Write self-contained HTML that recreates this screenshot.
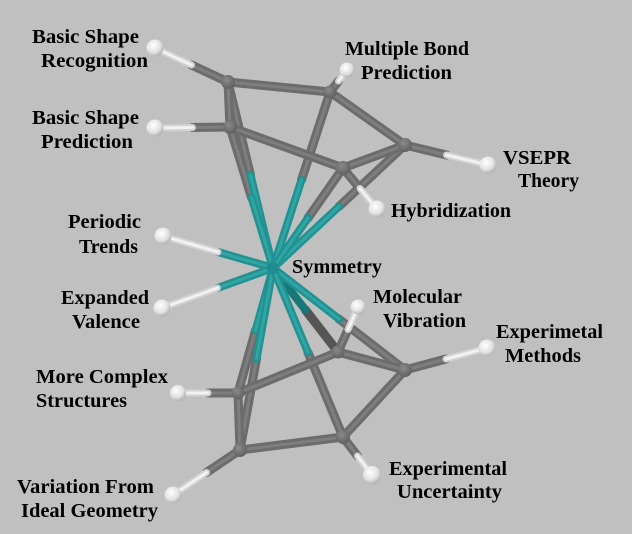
<!DOCTYPE html>
<html><head><meta charset="utf-8"><style>
html,body{margin:0;padding:0;background:#c0c0c0;}
svg{display:block;}
.g{stroke:#6c6c6c;stroke-width:9;stroke-linecap:round;fill:none}
.gh{stroke:#7e7e7e;stroke-width:3;stroke-linecap:round;fill:none}
.t{stroke:#209292;stroke-width:8;stroke-linecap:round;fill:none}
.th{stroke:#32a4a4;stroke-width:3;stroke-linecap:round;fill:none}
.w{stroke:#d2d2d2;stroke-width:7;stroke-linecap:round;fill:none}
.wh{stroke:#f2f2f2;stroke-width:3;stroke-linecap:round;fill:none}
text{font-family:"Liberation Serif",serif;font-weight:bold;font-size:20px;fill:#000}
</style></head><body>
<svg width="632" height="534" viewBox="0 0 632 534" xmlns="http://www.w3.org/2000/svg">
<defs>
<radialGradient id="ball" cx="0.4" cy="0.35" r="0.7">
<stop offset="0" stop-color="#ffffff"/><stop offset="0.6" stop-color="#e2e2e2"/><stop offset="1" stop-color="#a8a8a8"/>
</radialGradient>
<radialGradient id="node" cx="0.4" cy="0.35" r="0.7">
<stop offset="0" stop-color="#8a8a8a"/><stop offset="1" stop-color="#5e5e5e"/>
</radialGradient>
</defs>
<rect width="632" height="534" fill="#c0c0c0"/>

<!-- S to ring bonds: grey halves (node side) -->
<g>
<line class="g" x1="228" y1="82" x2="250.5" y2="175"/><line class="gh" x1="228" y1="82" x2="250.5" y2="175"/>
<line class="g" x1="230" y1="127" x2="251.5" y2="197.5"/><line class="gh" x1="230" y1="127" x2="251.5" y2="197.5"/>
<line class="g" x1="330" y1="92" x2="301.5" y2="180"/><line class="gh" x1="330" y1="92" x2="301.5" y2="180"/>
<line class="g" x1="405" y1="145" x2="339" y2="206.5"/><line class="gh" x1="405" y1="145" x2="339" y2="206.5"/>
<line class="g" x1="343" y1="168" x2="308" y2="218"/><line class="gh" x1="343" y1="168" x2="308" y2="218"/>
<line class="g" x1="338" y1="352" x2="305.5" y2="310" style="stroke:#555"/>
<line class="g" x1="405" y1="370" x2="339" y2="319"/><line class="gh" x1="405" y1="370" x2="339" y2="319"/>
<line class="g" x1="238" y1="393" x2="255.5" y2="330.5"/><line class="gh" x1="238" y1="393" x2="255.5" y2="330.5"/>
<line class="g" x1="240" y1="450" x2="256.5" y2="359"/><line class="gh" x1="240" y1="450" x2="256.5" y2="359"/>
<line class="g" x1="343" y1="437" x2="308" y2="352.5"/><line class="gh" x1="343" y1="437" x2="308" y2="352.5"/>
</g>

<!-- ring bonds -->
<g>
<line class="g" x1="228" y1="82" x2="330" y2="92"/><line class="gh" x1="228" y1="82" x2="330" y2="92"/>
<line class="g" x1="330" y1="92" x2="405" y2="145"/><line class="gh" x1="330" y1="92" x2="405" y2="145"/>
<line class="g" x1="405" y1="145" x2="343" y2="168"/><line class="gh" x1="405" y1="145" x2="343" y2="168"/>
<line class="g" x1="343" y1="168" x2="230" y2="127"/><line class="gh" x1="343" y1="168" x2="230" y2="127"/>
<line class="g" x1="230" y1="127" x2="228" y2="82"/><line class="gh" x1="230" y1="127" x2="228" y2="82"/>
<line class="g" x1="238" y1="393" x2="338" y2="352"/><line class="gh" x1="238" y1="393" x2="338" y2="352"/>
<line class="g" x1="338" y1="352" x2="405" y2="370"/><line class="gh" x1="338" y1="352" x2="405" y2="370"/>
<line class="g" x1="405" y1="370" x2="343" y2="437"/><line class="gh" x1="405" y1="370" x2="343" y2="437"/>
<line class="g" x1="343" y1="437" x2="240" y2="450"/><line class="gh" x1="343" y1="437" x2="240" y2="450"/>
<line class="g" x1="240" y1="450" x2="238" y2="393"/><line class="gh" x1="240" y1="450" x2="238" y2="393"/>
</g>

<!-- teal halves -->
<g>
<line class="t" x1="273" y1="268" x2="250.5" y2="175"/><line class="th" x1="273" y1="268" x2="250.5" y2="175"/>
<line class="t" x1="273" y1="268" x2="251.5" y2="197.5"/><line class="th" x1="273" y1="268" x2="251.5" y2="197.5"/>
<line class="t" x1="273" y1="268" x2="301.5" y2="180"/><line class="th" x1="273" y1="268" x2="301.5" y2="180"/>
<line class="t" x1="273" y1="268" x2="339" y2="206.5"/><line class="th" x1="273" y1="268" x2="339" y2="206.5"/>
<line class="t" x1="273" y1="268" x2="308" y2="218"/><line class="th" x1="273" y1="268" x2="308" y2="218"/>
<line class="t" x1="273" y1="268" x2="305.5" y2="310" style="stroke:#177878"/>
<line class="t" x1="273" y1="268" x2="339" y2="319"/><line class="th" x1="273" y1="268" x2="339" y2="319"/>
<line class="t" x1="273" y1="268" x2="255.5" y2="330.5"/><line class="th" x1="273" y1="268" x2="255.5" y2="330.5"/>
<line class="t" x1="273" y1="268" x2="256.5" y2="359"/><line class="th" x1="273" y1="268" x2="256.5" y2="359"/>
<line class="t" x1="273" y1="268" x2="308" y2="352.5"/><line class="th" x1="273" y1="268" x2="308" y2="352.5"/>
<line class="t" x1="273" y1="268" x2="218" y2="252"/><line class="th" x1="273" y1="268" x2="218" y2="252"/>
<line class="t" x1="273" y1="268" x2="217.5" y2="288"/><line class="th" x1="273" y1="268" x2="217.5" y2="288"/>
</g>

<!-- stubs: grey half -->
<g>
<line class="g" x1="228" y1="82" x2="191.5" y2="65"/><line class="gh" x1="228" y1="82" x2="191.5" y2="65"/>
<line class="g" x1="230" y1="127" x2="192.5" y2="127.5"/><line class="gh" x1="230" y1="127" x2="192.5" y2="127.5"/>
<line class="g" x1="330" y1="92" x2="338.5" y2="81"/><line class="gh" x1="330" y1="92" x2="338.5" y2="81"/>
<line class="g" x1="405" y1="145" x2="446.5" y2="155"/><line class="gh" x1="405" y1="145" x2="446.5" y2="155"/>
<line class="g" x1="343" y1="168" x2="360" y2="188.5"/><line class="gh" x1="343" y1="168" x2="360" y2="188.5"/>
<line class="g" x1="338" y1="352" x2="348" y2="329.5"/><line class="gh" x1="338" y1="352" x2="348" y2="329.5"/>
<line class="g" x1="405" y1="370" x2="446" y2="359"/><line class="gh" x1="405" y1="370" x2="446" y2="359"/>
<line class="g" x1="238" y1="393" x2="208" y2="393"/><line class="gh" x1="238" y1="393" x2="208" y2="393"/>
<line class="g" x1="240" y1="450" x2="206.5" y2="472.5"/><line class="gh" x1="240" y1="450" x2="206.5" y2="472.5"/>
<line class="g" x1="343" y1="437" x2="357.5" y2="456"/><line class="gh" x1="343" y1="437" x2="357.5" y2="456"/>
</g>
<!-- stubs: white half -->
<g>
<line class="w" x1="191.5" y1="65" x2="155" y2="48"/><line class="wh" x1="191.5" y1="65" x2="155" y2="48"/>
<line class="w" x1="192.5" y1="127.5" x2="155" y2="128"/><line class="wh" x1="192.5" y1="127.5" x2="155" y2="128"/>
<line class="w" x1="338.5" y1="81" x2="347" y2="70"/><line class="wh" x1="338.5" y1="81" x2="347" y2="70"/>
<line class="w" x1="446.5" y1="155" x2="488" y2="165"/><line class="wh" x1="446.5" y1="155" x2="488" y2="165"/>
<line class="w" x1="360" y1="188.5" x2="377" y2="209"/><line class="wh" x1="360" y1="188.5" x2="377" y2="209"/>
<line class="w" x1="218" y1="252" x2="163" y2="236"/><line class="wh" x1="218" y1="252" x2="163" y2="236"/>
<line class="w" x1="217.5" y1="288" x2="162" y2="308"/><line class="wh" x1="217.5" y1="288" x2="162" y2="308"/>
<line class="w" x1="348" y1="329.5" x2="358" y2="307"/><line class="wh" x1="348" y1="329.5" x2="358" y2="307"/>
<line class="w" x1="446" y1="359" x2="487" y2="348"/><line class="wh" x1="446" y1="359" x2="487" y2="348"/>
<line class="w" x1="208" y1="393" x2="178" y2="393"/><line class="wh" x1="208" y1="393" x2="178" y2="393"/>
<line class="w" x1="206.5" y1="472.5" x2="173" y2="495"/><line class="wh" x1="206.5" y1="472.5" x2="173" y2="495"/>
<line class="w" x1="357.5" y1="456" x2="372" y2="475"/><line class="wh" x1="357.5" y1="456" x2="372" y2="475"/>
</g>

<!-- node spheres -->
<g fill="url(#node)">
<circle cx="228" cy="82" r="7"/><circle cx="230" cy="127" r="7"/><circle cx="330" cy="92" r="6.5"/>
<circle cx="405" cy="145" r="7"/><circle cx="343" cy="168" r="7"/>
<circle cx="338" cy="352" r="6.5"/><circle cx="405" cy="370" r="7"/><circle cx="238" cy="393" r="6.5"/>
<circle cx="240" cy="450" r="7"/><circle cx="343" cy="437" r="7"/>
</g>
<circle cx="273" cy="268" r="6" fill="#1e8e8e"/>

<!-- end balls -->
<g fill="url(#ball)">
<circle cx="155" cy="48" r="8.5"/><circle cx="155" cy="128" r="8.5"/><circle cx="347" cy="70" r="7.5"/>
<circle cx="488" cy="165" r="8.5"/><circle cx="377" cy="209" r="8.5"/><circle cx="163" cy="236" r="8.5"/>
<circle cx="162" cy="308" r="8.5"/><circle cx="358" cy="307" r="7.5"/><circle cx="487" cy="348" r="8.5"/>
<circle cx="178" cy="393" r="8"/><circle cx="173" cy="495" r="8.5"/><circle cx="372" cy="475" r="9"/>
</g>

<!-- labels -->
<text x="32" y="43" textLength="107" lengthAdjust="spacingAndGlyphs">Basic Shape</text>
<text x="41" y="67" textLength="107" lengthAdjust="spacingAndGlyphs">Recognition</text>
<text x="32" y="124" textLength="107" lengthAdjust="spacingAndGlyphs">Basic Shape</text>
<text x="41" y="148" textLength="92" lengthAdjust="spacingAndGlyphs">Prediction</text>
<text x="68" y="228" textLength="73" lengthAdjust="spacingAndGlyphs">Periodic</text>
<text x="79" y="253" textLength="59" lengthAdjust="spacingAndGlyphs">Trends</text>
<text x="61" y="304" textLength="88" lengthAdjust="spacingAndGlyphs">Expanded</text>
<text x="72" y="328" textLength="68" lengthAdjust="spacingAndGlyphs">Valence</text>
<text x="36" y="383" textLength="132" lengthAdjust="spacingAndGlyphs">More Complex</text>
<text x="36" y="407" textLength="91" lengthAdjust="spacingAndGlyphs">Structures</text>
<text x="17" y="493" textLength="137" lengthAdjust="spacingAndGlyphs">Variation From</text>
<text x="21" y="517" textLength="137" lengthAdjust="spacingAndGlyphs">Ideal Geometry</text>
<text x="345" y="55" textLength="124" lengthAdjust="spacingAndGlyphs">Multiple Bond</text>
<text x="361" y="79" textLength="91" lengthAdjust="spacingAndGlyphs">Prediction</text>
<text x="503" y="164" textLength="68" lengthAdjust="spacingAndGlyphs">VSEPR</text>
<text x="518" y="187" textLength="61" lengthAdjust="spacingAndGlyphs">Theory</text>
<text x="391" y="217" textLength="120" lengthAdjust="spacingAndGlyphs">Hybridization</text>
<text x="292" y="273" textLength="90" lengthAdjust="spacingAndGlyphs">Symmetry</text>
<text x="373" y="303" textLength="89" lengthAdjust="spacingAndGlyphs">Molecular</text>
<text x="383" y="327" textLength="83" lengthAdjust="spacingAndGlyphs">Vibration</text>
<text x="496" y="338" textLength="107" lengthAdjust="spacingAndGlyphs">Experimetal</text>
<text x="505" y="362" textLength="76" lengthAdjust="spacingAndGlyphs">Methods</text>
<text x="389" y="475" textLength="118" lengthAdjust="spacingAndGlyphs">Experimental</text>
<text x="397" y="498" textLength="105" lengthAdjust="spacingAndGlyphs">Uncertainty</text>
</svg>
</body></html>
